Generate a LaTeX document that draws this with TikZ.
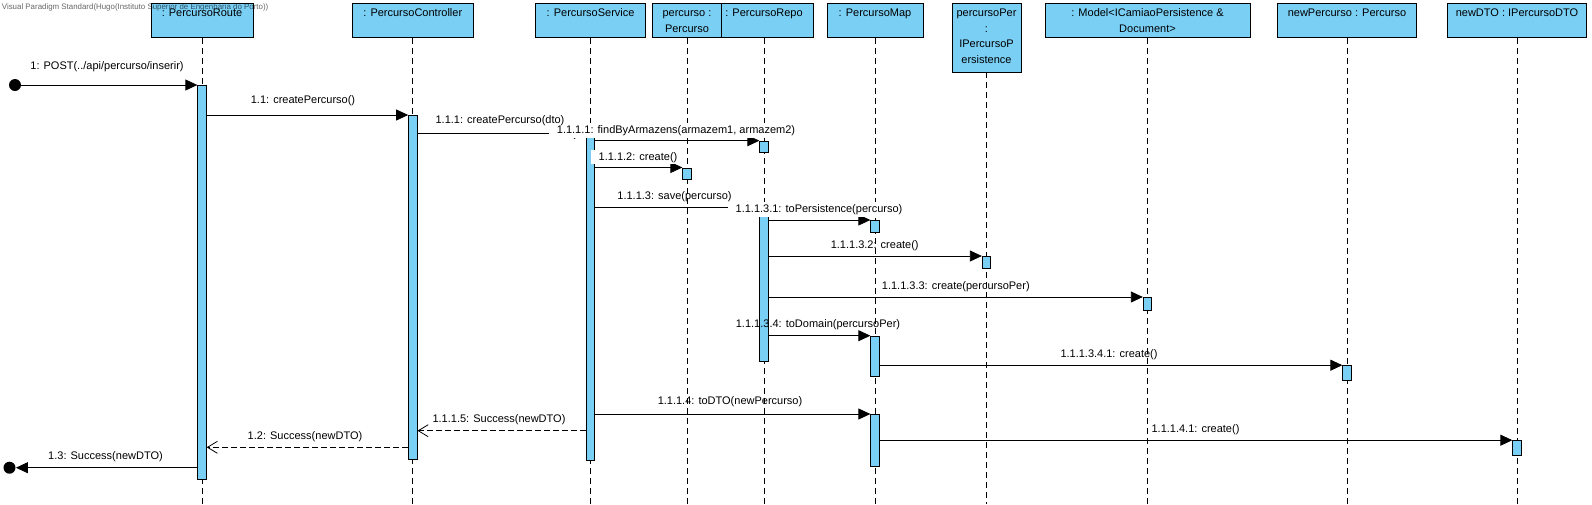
\documentclass[tikz,border=0pt]{standalone}
\usepackage{fontspec}
\setmainfont{Liberation Sans}
\usetikzlibrary{arrows.meta}
\definecolor{vpblue}{RGB}{122,207,245}

\begin{document}
\begin{tikzpicture}[x=1pt,y=-1pt,line width=0.8pt,
	hdr/.style={draw,fill=vpblue,anchor=north,minimum height=34.5pt,inner sep=0pt},
	htxt/.style={anchor=north,align=center,inner sep=0pt,yshift=-3pt,font=\fontsize{11}{15.5}\selectfont},
	act/.style={draw,fill=vpblue,anchor=north,minimum width=8.5pt,inner sep=0pt},
	life/.style={dash pattern=on 6pt off 4pt},
	call/.style={-{Triangle[length=12pt,width=11pt]}},
	ret/.style={dash pattern=on 6pt off 3pt,-{Straight Barb[length=10pt,width=12pt]}},
	dot/.style={circle,fill=black,inner sep=0pt,minimum size=12pt},
	msg/.style={anchor=base,inner sep=0pt,font=\fontsize{11}{13}\selectfont},
	cover/.style={msg,fill=white,inner xsep=8pt,inner ysep=2pt}]
	\path[fill=white,use as bounding box] (0,0) rectangle (1592,504);
	\coordinate (bot) at (0,504);
	\coordinate (save) at (0,207.3);
	\coordinate (r1115) at (0,430.7);
	\coordinate (r12) at (0,447.3);
	\coordinate (r13) at (0,467.7);
	% lifeline heads
	\node[hdr,minimum width=102pt,label={[htxt]north:{\strut: PercursoRoute}}] (hRoute) at (202,2.5) {};
	\node[hdr,minimum width=121pt,label={[htxt]north:{\strut: PercursoController}}] (hCtrl) at (412.8,2.5) {};
	\node[hdr,minimum width=110pt,label={[htxt]north:{\strut: PercursoService}}] (hServ) at (590.6,2.5) {};
	\node[hdr,minimum width=98pt,label={[htxt]north:{\strut: PercursoRepo}}] (hRepo) at (764,2.5) {};
	\node[hdr,minimum width=69pt,label={[htxt]north:{\strut percurso :\\Percurso}}] (hPerc) at (687,2.5) {};
	\node[hdr,minimum width=96pt,label={[htxt]north:{\strut: PercursoMap}}] (hMap) at (875,2.5) {};
	\node[hdr,minimum width=69pt,minimum height=69pt,label={[htxt]north:{\strut percursoPer\\:\\IPercursoP\\ersistence}}] (hPPer) at (986.5,2.5) {};
	\node[hdr,minimum width=205pt,label={[htxt]north:{\strut: Model<ICamiaoPersistence \&\\Document>}}] (hModel) at (1147.5,2.5) {};
	\node[hdr,minimum width=139pt,label={[htxt]north:{\strut newPercurso : Percurso}}] (hNewP) at (1347,2.5) {};
	\node[hdr,minimum width=139pt,label={[htxt]north:{\strut newDTO : IPercursoDTO}}] (hDTO) at (1517,2.5) {};
	\foreach \h in {hRoute,hCtrl,hServ,hPerc,hRepo,hMap,hPPer,hModel,hNewP,hDTO}
		\draw[life] (\h.south) -- (\h.south |- bot);
	% activations
	\node[act,minimum height=394pt] (aRoute) at (hRoute.south |- 0,85) {};
	\node[act,minimum height=344pt] (aCtrl) at (hCtrl.south |- 0,115) {};
	\node[act,minimum height=327pt] (aServ) at (hServ.south |- 0,133.3) {};
	\node[act,minimum height=11.6pt] (aRepoA) at (hRepo.south |- 0,140.7) {};
	\node[act,minimum height=11.8pt] (aPerc) at (hPerc.south |- 0,167.5) {};
	\node[act,minimum height=146pt] (aRepoB) at (hRepo.south |- 0,215) {};
	\node[act,minimum height=12pt] (aMapA) at (hMap.south |- 0,220) {};
	\node[act,minimum height=12pt] (aPPer) at (hPPer.south |- 0,256) {};
	\node[act,minimum height=13pt] (aModel) at (hModel.south |- 0,297) {};
	\node[act,minimum height=40.3pt] (aMapB) at (hMap.south |- 0,335.7) {};
	\node[act,minimum height=14.8pt] (aNewP) at (hNewP.south |- 0,365.2) {};
	\node[act,minimum height=52pt] (aMapC) at (hMap.south |- 0,414) {};
	\node[act,minimum height=14.8pt] (aDTO) at (hDTO.south |- 0,440.2) {};
	\node[dot] (start) at (15,85) {};
	\node[dot] (stop) at (9.5,467.7) {};
	% messages
	\draw[call] (start) -- (aRoute.north west);
	\draw[call] (aRoute.east |- aCtrl.north) -- (aCtrl.north west);
	\draw[call] (aCtrl.east |- aServ.north) -- (aServ.north west);
	\draw[call] (aServ.east |- aRepoA.north) -- (aRepoA.north west);
	\draw[call] (aServ.east |- aPerc.north) -- (aPerc.north west);
	\draw[call] (aServ.east |- save) -- (aRepoB.west |- save);
	\draw[call] (aRepoB.east |- aMapA.north) -- (aMapA.north west);
	\draw[call] (aRepoB.east |- aPPer.north) -- (aPPer.north west);
	\draw[call] (aRepoB.east |- aModel.north) -- (aModel.north west);
	\draw[call] (aRepoB.east |- aMapB.north) -- (aMapB.north west);
	\draw[call] (aMapB.east |- aNewP.north) -- (aNewP.north west);
	\draw[call] (aServ.east |- aMapC.north) -- (aMapC.north west);
	\draw[call] (aMapC.east |- aDTO.north) -- (aDTO.north west);
	\draw[ret] (aServ.west |- r1115) -- (aCtrl.east |- r1115);
	\draw[ret] (aCtrl.west |- r12) -- (aRoute.east |- r12);
	\draw[call] (aRoute.west |- r13) -- (stop);
	% labels
	\node[msg] (l1) at (107,69) {1: POST(../api/percurso/inserir)};
	\node[msg] (l11) at (303,103) {1.1: createPercurso()};
	\node[cover] (l1111) at (676,133.3) {1.1.1.1: findByArmazens(armazem1, armazem2)};
	\node[msg] (l111) at (500,123.3) {1.1.1: createPercurso(dto)};
	\node[cover] (l1112) at (638,160) {1.1.1.2: create()};
	\node[msg] (l1113) at (674.5,199) {1.1.1.3: save(percurso)};
	\node[cover] (l11131) at (819,212.3) {1.1.1.3.1: toPersistence(percurso)};
	\node[msg] (l11132) at (874.7,248.3) {1.1.1.3.2: create()};
	\node[msg] (l11133) at (955.8,289.3) {1.1.1.3.3: create(percursoPer)};
	\node[msg] (l11134) at (818,327.3) {1.1.1.3.4: toDomain(percursoPer)};
	\node[msg] (l111341) at (1109,357.3) {1.1.1.3.4.1: create()};
	\node[msg] (l1114) at (730,404.7) {1.1.1.4: toDTO(newPercurso)};
	\node[msg] (l11141) at (1195.5,432.3) {1.1.1.4.1: create()};
	\node[msg] (l1115) at (499,422.3) {1.1.1.5: Success(newDTO)};
	\node[msg] (l12) at (305,439.7) {1.2: Success(newDTO)};
	\node[msg] (l13) at (105.5,459) {1.3: Success(newDTO)};
	\node[anchor=base west,inner sep=0pt,font=\fontsize{7.9}{9}\selectfont,text=black,text opacity=0.6] (wm) at (1.5,9.5) {Visual Paradigm Standard(Hugo(Instituto Superior de Engenharia do Porto))};
\end{tikzpicture}
\end{document}
